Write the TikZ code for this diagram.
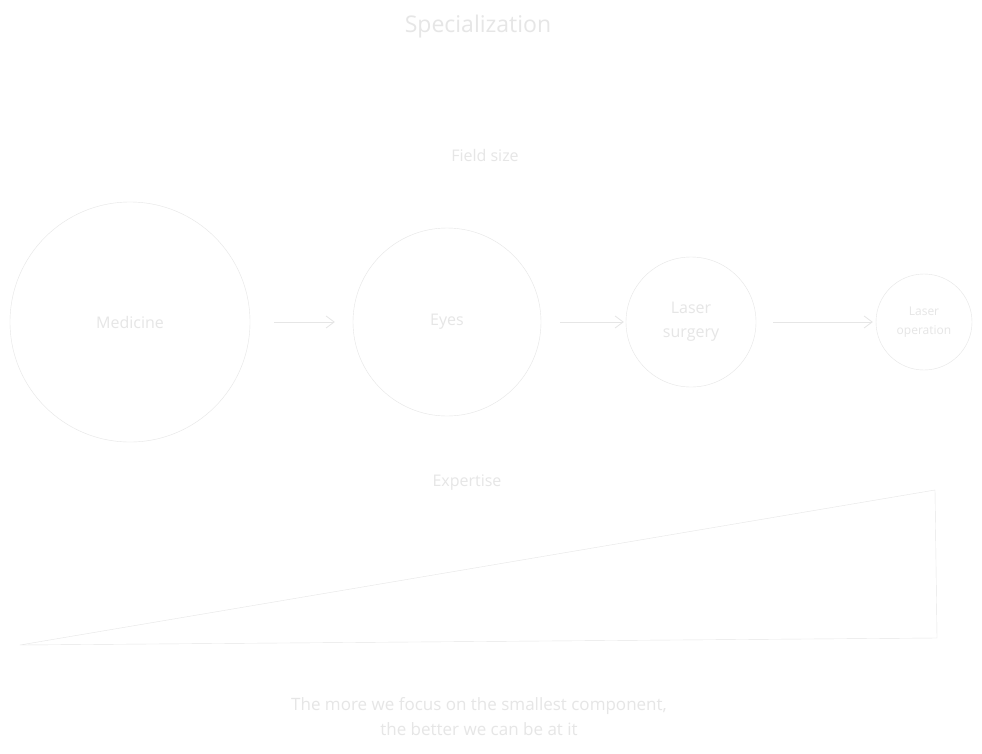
\documentclass[tikz,border=0pt]{standalone}
\usepackage{fontspec}
\setmainfont{Open Sans}
\usetikzlibrary{positioning,arrows.meta}
\definecolor{inkgray}{HTML}{E6E6E6}
\begin{document}
\begin{tikzpicture}[x=1pt, y=-1pt,
    every node/.style={text=inkgray},
    field/.style={draw=inkgray, circle, align=center, inner sep=0pt},
    flow/.style={-{Straight Barb[length=8pt,width=12pt]}, draw=inkgray, line width=0.8pt}]
    \useasboundingbox[fill=white] (0,0) rectangle (982,753);
    \node (title) at (478,27) {\fontsize{23}{26}\selectfont Specialization};
    \node (fieldsize) at (485,155) {\fontsize{16}{18}\selectfont Field size};
    % fields
    \node[field, minimum size=240pt, font=\fontsize{16}{19}\selectfont] (medicine) at (130,322) {Medicine};
    \node[field, minimum size=188pt, font=\fontsize{16}{19}\selectfont] (eyes) at (447,322) {Eyes};
    \node[field, minimum size=130pt, font=\fontsize{16}{24}\selectfont] (surgery) at (691,322) {Laser\\surgery};
    \node[field, minimum size=96pt, font=\fontsize{12}{19}\selectfont] (operation) at (924,322) {Laser\\operation};
    \draw[flow] ([xshift=24pt]medicine.east) -- ([xshift=-18pt]eyes.west);
    \draw[flow] ([xshift=19pt]eyes.east) -- ([xshift=-2pt]surgery.west);
    \draw[flow] ([xshift=17pt]surgery.east) -- ([xshift=-3pt]operation.west);
    % expertise wedge
    \node (expertise) at (467,483) {\fontsize{16}{18}\selectfont Expertise};
    \coordinate (low) at (20,645);
    \coordinate (high) at (935,490);
    \coordinate (base) at (937,638);
    \draw[inkgray] (low) -- (high) -- (base) -- cycle;
    \node[align=center, font=\fontsize{17}{25}\selectfont] (moral) at (479,717) {The more we focus on the smallest component,\\the better we can be at it};
\end{tikzpicture}
\end{document}
